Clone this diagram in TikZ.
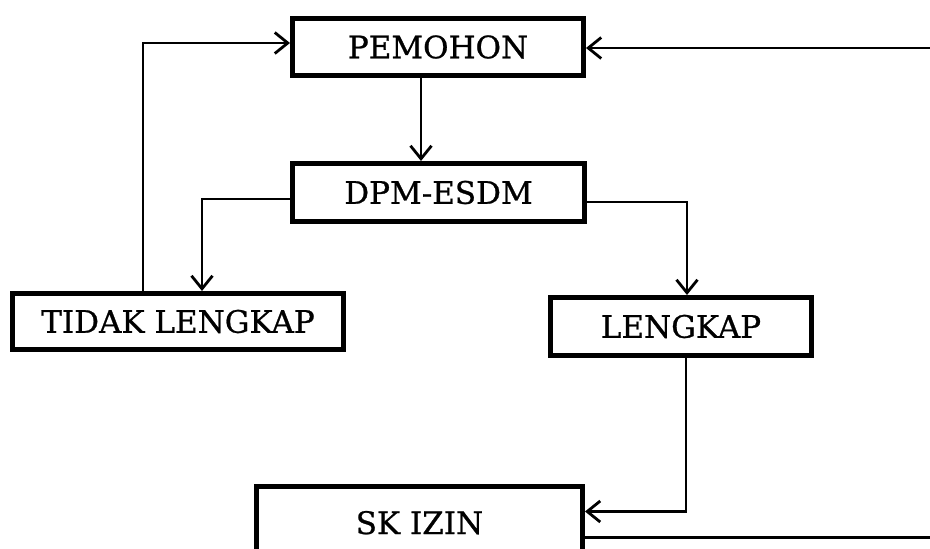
\documentclass[tikz,border=0pt]{standalone}
\usepackage{fontspec}
\setmainfont[FakeBold=0.8]{DejaVu Serif}
\usetikzlibrary{arrows.meta}
\begin{document}
\begin{tikzpicture}[x=1pt,y=-1pt,
  box/.style={draw, line width=5pt, inner sep=0pt, rectangle,
    font=\fontsize{31}{31}\selectfont},
  link/.style={line width=2.8pt,
    -{Straight Barb[length=13pt,width=21pt,line width=2.8pt]}}]
\useasboundingbox (0,0) rectangle (930,549);

% boxes
\node[box, minimum width=291pt, minimum height=57pt] (pemohon) at (438,47) {PEMOHON};
\node[box, minimum width=292pt, minimum height=58pt] (dpm) at (438.5,192.5) {DPM-ESDM};
\node[box, minimum width=331pt, minimum height=56pt] (tidak) at (178,321.5) {TIDAK LENGKAP};
\node[box, minimum width=261pt, minimum height=58pt] (lengkap) at (681,326.5) {LENGKAP};
\node[box, minimum width=326pt, text height=48pt, text depth=72pt, anchor=north]
  (skizin) at (419.5,483.5) {SK IZIN};

% turning point of the return line, right of the page edge
\coordinate (edge) at (945,300);

% connectors
\draw[link] ([xshift=-17pt]pemohon.south) -- ([xshift=-17pt]pemohon.south |- dpm.north);
\draw[link] ([yshift=-6.5pt]dpm.west) -| ([xshift=24pt]tidak.north);
\draw[link] ([yshift=-9.5pt]dpm.east) -| ([xshift=6pt]lengkap.north);
\draw[link] ([xshift=-35pt]tidak.north) |- ([yshift=4pt]pemohon.west);
\draw[link] ([xshift=5pt]lengkap.south) |- ([yshift=-28pt]skizin.north east);
\draw[link] ([yshift=-54pt]skizin.north east) -| (edge) |- ([yshift=-1pt]pemohon.east);
\end{tikzpicture}
\end{document}
